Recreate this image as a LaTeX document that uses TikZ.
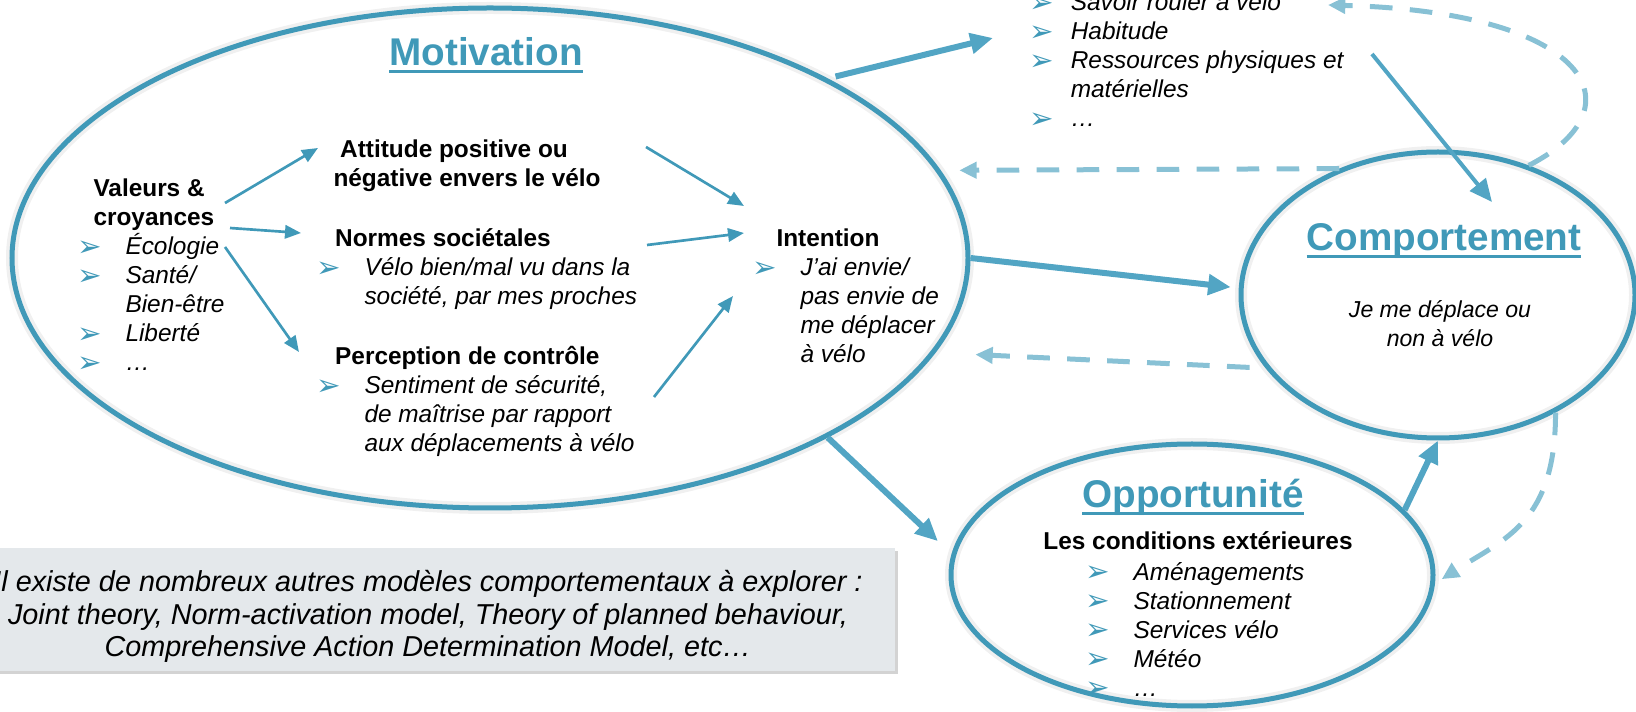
\documentclass[tikz,border=0pt]{standalone}
\usepackage{fontspec}
\setmainfont{Liberation Sans}
\newfontfamily\symboles{DejaVu Sans}
\usetikzlibrary{arrows.meta,shapes.geometric,shadows}

\definecolor{bleu}{RGB}{64,153,184}
\definecolor{bleuvif}{RGB}{82,165,196}
\definecolor{bleupale}{RGB}{136,193,213}
\definecolor{grisfond}{RGB}{228,232,235}

\newsavebox{\boitetitre}
\newcommand{\souligne}[1]{\sbox{\boitetitre}{#1}\rlap{\rule[-5pt]{\wd\boitetitre}{2.25pt}}\usebox{\boitetitre}}
\newcommand{\puce}{\makebox[36pt][l]{\raisebox{-1pt}{\textcolor{bleu}{\symboles\fontsize{22}{22}\selectfont ➢}}}}
\newcommand{\retrait}{\hspace*{36pt}}
\newcommand{\pucecap}{\makebox[31pt][l]{\raisebox{-1pt}{\textcolor{bleu}{\symboles\fontsize{22}{22}\selectfont ➢}}}}
\newcommand{\retraitcap}{\hspace*{31pt}}

\tikzset{every picture/.style={line width=0.75pt}}
\tikzset{
  bulle/.style={ellipse, draw=bleu, line width=3.75pt, inner sep=0pt, preaction={draw=black!6, line width=9pt}},
  texte/.style={inner sep=0.75pt, align=left, font=\fontsize{18.3}{21.75}\selectfont},
  titre/.style={inner sep=0.75pt, text=bleu, font=\fontsize{29}{32}\selectfont\bfseries},
  encadre/.style={rectangle, fill=grisfond, inner sep=0pt, drop shadow={shadow xshift=2.5pt, shadow yshift=-2.5pt, opacity=0.35}},
  fleche/.style={draw=bleu, line width=2pt, -{Triangle[length=12pt,width=10pt]}},
  grosse fleche/.style={draw=bleuvif, line width=4.5pt, -{Triangle[length=17pt,width=15pt]}},
  retour/.style={draw=bleupale, line width=3.75pt, dash pattern=on 17pt off 13pt, -{Triangle[length=13pt,width=12pt]}},
}

\begin{document}
\begin{tikzpicture}[x=0.75pt,y=0.75pt,yscale=-1,xscale=1]
\useasboundingbox (0,0) rectangle (1636,712);

%Shape: Ellipse [motivation]
\node[bulle, minimum width=717pt, minimum height=375pt] (motivation) at (490,258) {};
%Shape: Ellipse [comportement]
\node[bulle, minimum width=295.5pt, minimum height=214.5pt] (comportement) at (1438,295) {};
%Shape: Ellipse [opportunite]
\node[bulle, minimum width=361.5pt, minimum height=196.5pt] (opportunite) at (1192,575) {};
%Shape: Rectangle [remarque]
\node[encadre, minimum width=678.75pt, minimum height=92.25pt] (remarque) at (442.5,609.5) {};

% Text Node
\node[titre, anchor=base] (motivation-titre) at (486,66) {\souligne{Motivation}};
% Text Node
\node[titre, anchor=base] (comportement-titre) at (1444,251) {\souligne{Comportement}};
% Text Node
\node[titre, anchor=base] (opportunite-titre) at (1193,508) {\souligne{Opportunité}};

% Text Node (base = last line)
\node[texte, anchor=base west, font=\fontsize{18.3}{21.75}\selectfont\bfseries] (valeurs) at (92,226) {Valeurs \&\\croyances};
% Text Node
\node[texte, anchor=base west] (valeurs-liste) at (76,371) {\puce\textit{Écologie}\\\puce\textit{Santé/}\\\retrait\textit{Bien-être}\\\puce\textit{Liberté}\\\puce\textit{…}};
% Text Node
\node[texte, anchor=base west, font=\fontsize{18.3}{21.75}\selectfont\bfseries] (attitude) at (332,187) {\hspace*{5pt}Attitude positive ou\\négative envers le vélo};
% Text Node
\node[texte, anchor=base west] (normes) at (315,305) {\hspace*{14pt}\textbf{Normes sociétales}\\\puce\textit{Vélo bien/mal vu dans la}\\\retrait\textit{société, par mes proches}};
% Text Node
\node[texte, anchor=base west] (perception) at (315,452) {\hspace*{14pt}\textbf{Perception de contrôle}\\\puce\textit{Sentiment de sécurité,}\\\retrait\textit{de maîtrise par rapport}\\\retrait\textit{aux déplacements à vélo}};
% Text Node
\node[texte, anchor=base west] (intention) at (751,363) {\hspace*{18pt}\textbf{Intention}\\\puce\textit{J’ai envie/}\\\retrait\textit{pas envie de}\\\retrait\textit{me déplacer}\\\retrait\textit{à vélo}};
% Text Node
\node[texte, anchor=base west] (capacite) at (1028,127) {\pucecap\textit{Savoir rouler à vélo}\\\pucecap\textit{Habitude}\\\pucecap\textit{Ressources physiques et}\\\retraitcap\textit{matérielles}\\\pucecap\textit{…}};
% Text Node
\node[texte, anchor=base, align=center, font=\fontsize{17.3}{21.75}\selectfont\itshape] (comportement-texte) at (1440,347) {Je me déplace ou\\non à vélo};
% Text Node
\node[texte, anchor=base, font=\fontsize{18.3}{21.75}\selectfont\bfseries] (conditions) at (1198,550) {Les conditions extérieures};
% Text Node
\node[texte, anchor=base west] (conditions-liste) at (1084,696) {\puce\textit{Aménagements}\\\puce\textit{Stationnement}\\\puce\textit{Services vélo}\\\puce\textit{Météo}\\\puce\textit{…}};
% Text Node
\node[texte, anchor=base, align=center, font=\fontsize{21.6}{24.4}\selectfont\itshape] (remarque-texte) at (428,657) {Il existe de nombreux autres modèles comportementaux à explorer :\\Joint theory, Norm-activation model, Theory of planned behaviour,\\Comprehensive Action Determination Model, etc…};

%Straight Lines [motivation interne]
\draw[fleche] ([shift={(133,-23)}]valeurs.base west) -- ([shift={(-14,-39)}]attitude.base west);
\draw[fleche] ([shift={(138,2)}]valeurs.base west) -- ([shift={(-14,-72)}]normes.base west);
\draw[fleche] ([shift={(133,21)}]valeurs.base west) -- ([shift={(-16,-100)}]perception.base west);
\draw[fleche] ([shift={(314,-40)}]attitude.base west) -- ([shift={(-7,-157)}]intention.base west);
\draw[fleche] ([shift={(332,-60)}]normes.base west) -- ([shift={(-7,-130)}]intention.base west);
\draw[fleche] ([shift={(339,-55)}]perception.base west) -- ([shift={(-18,-67)}]intention.base west);

%Straight Lines [entre bulles]
\draw[grosse fleche, shorten <=6pt] (motivation.28) -- ([shift={(-35,-89)}]capacite.base west);
\draw[grosse fleche, line width=3pt] ([shift={(344,-73)}]capacite.base west) -- ([shift={(54,-93)}]comportement.center);
\draw[grosse fleche, shorten >=6pt] (motivation.0) -- (comportement.178);
\draw[grosse fleche, shorten >=14pt] (motivation.-28) -- (opportunite.175);
\draw[grosse fleche] (opportunite.17) -- (comportement.south);

%Dashed Lines [retours]
\draw[retour, shorten >=14pt] (comportement.128) -- (motivation.11);
\draw[retour, shorten <=12pt, shorten >=30pt] (comportement.-157) -- (motivation.-12);
\draw[retour] (comportement.55) .. controls +(113,-58) and +(262,7) .. ([shift={(300,-122)}]capacite.base west);
\draw[retour, shorten >=6pt] (comportement.-45) .. controls +(0,110) and +(70,-45) .. (opportunite.-2);

\end{tikzpicture}
\end{document}
